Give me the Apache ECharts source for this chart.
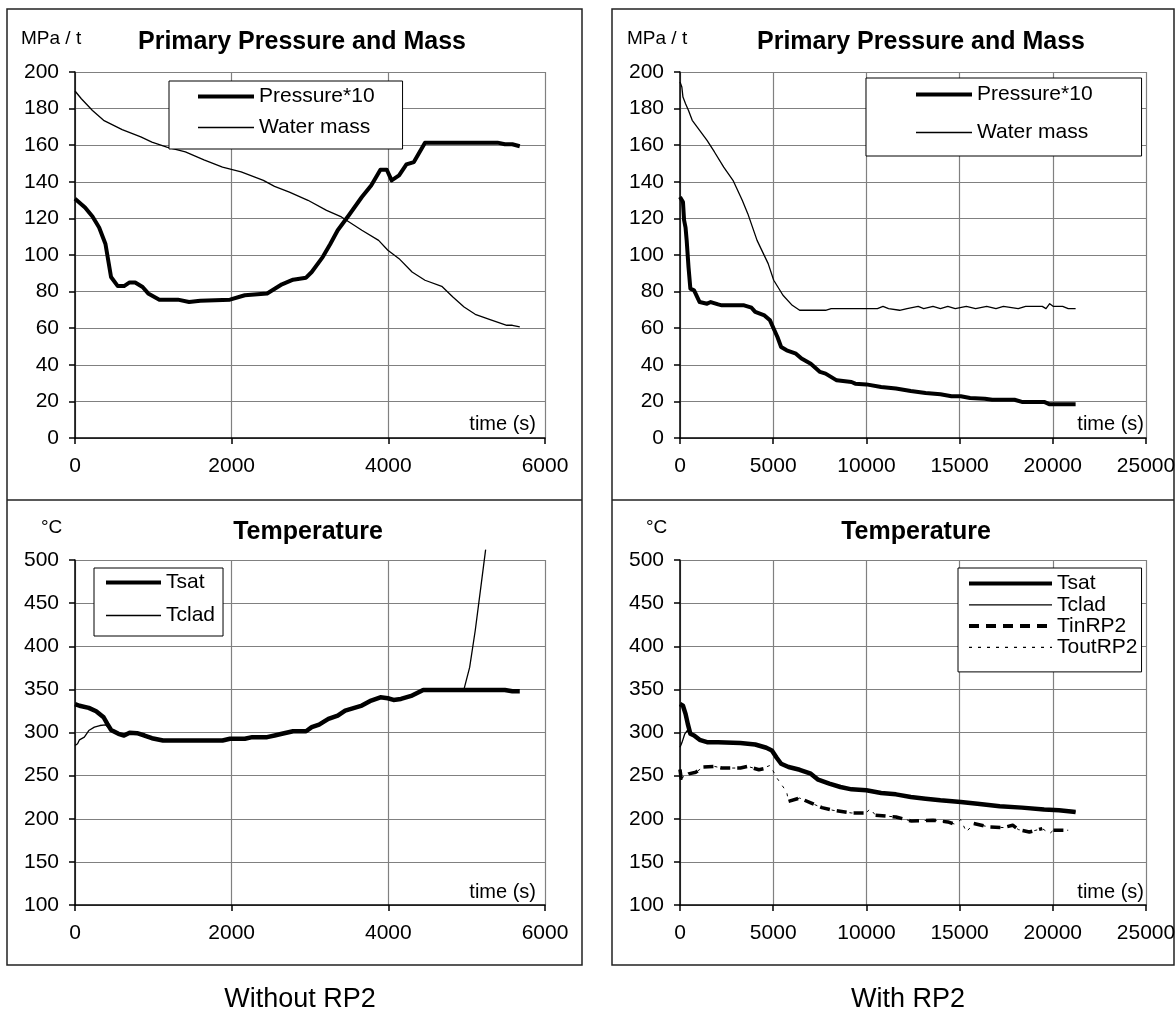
<!DOCTYPE html>
<html>
<head>
<meta charset="utf-8">
<script src="https://cdn.jsdelivr.net/npm/echarts@6.0.0/dist/echarts.min.js"></script>
<style>
html,body{margin:0;padding:0;background:#fff;}
#chart{width:1176px;height:1023px;}
</style>
</head>
<body>
<div id="chart"></div>
<script>
// ---------- DATA (time s, value) ----------
// Without RP2 - primary pressure*10 (MPa) and water mass (t)
var pressureNoRP2 = [[0,130.8],[128,126],[223,121],[308,115],[389,106],[460,88],[546,83],[626,83],[697,85],[768,85],[863,82.5],[934,79],[1077,75.6],[1314,75.6],[1456,74.3],[1599,75],[1978,75.6],[2168,78],[2453,79],[2642,84],[2784,86.5],[2950,87.6],[3022,90.7],[3164,99],[3259,106],[3354,113.5],[3496,121.7],[3662,131.7],[3781,138],[3899,146.6],[3980,146.6],[4042,140.8],[4137,143.5],[4231,149.5],[4326,150.8],[4468,161.4],[5393,161.4],[5488,160.5],[5583,160.5],[5678,159.4]];
var waterNoRP2 = [[0,189.6],[81,185.4],[223,179],[365,173.6],[602,168.5],[840,164.5],[982,161.7],[1172,159],[1409,156.3],[1646,152],[1883,148],[2121,145.4],[2405,140.8],[2547,137.5],[2737,134.4],[2974,129.9],[3211,124.4],[3401,120.8],[3662,113.5],[3876,108],[3994,102.6],[4137,98],[4303,90.7],[4468,86.2],[4682,82.9],[4824,77],[4967,71.6],[5109,67.6],[5299,64.7],[5512,61.6],[5583,61.6],[5678,60.7]];
// With RP2 - primary pressure*10 and water mass
var pressureRP2 = [[0,131.7],[159,129],[219,119],[298,115],[358,108],[457,93.4],[556,81.6],[755,80.7],[1053,74.3],[1451,73.4],[1650,74.3],[2047,73],[2246,72.5],[3438,72.5],[3836,71.2],[4035,68.9],[4531,67],[4829,64.3],[5028,59.7],[5227,55.2],[5425,49.7],[5723,47.9],[6220,46.1],[6518,43.4],[7015,40.6],[7512,36.1],[7810,35.2],[8406,31.5],[9201,30.6],[9400,29.7],[9996,29.3],[10791,27.9],[11586,27],[12381,25.7],[13176,24.6],[13971,23.9],[14567,22.8],[15064,22.8],[15561,21.9],[16355,21.5],[16753,20.9],[17946,20.9],[18343,19.7],[19535,19.7],[19833,18.4],[21224,18.4]];
var waterRP2 = [[0,194.5],[99,191.8],[159,186.3],[298,182.7],[457,179],[656,173.6],[1053,168.1],[1451,162.6],[1848,156.3],[2345,148],[2842,140.8],[3339,129.9],[3637,122.6],[4134,108],[4730,95.3],[5028,86.2],[5525,78],[6022,72.5],[6419,69.8],[6816,69.8],[6916,68.9],[7214,69.8],[7810,69.8],[8108,70.7],[10592,70.7],[10890,71.9],[11188,70.7],[11784,69.8],[12182,70.7],[12778,71.9],[13076,70.7],[13573,71.9],[13971,70.7],[14368,71.9],[14766,70.7],[15362,71.9],[15859,70.7],[16456,71.9],[16952,70.7],[17350,71.9],[18145,70.7],[18542,71.9],[19436,71.9],[19635,70.7],[19833,73.4],[20032,71.9],[20529,71.9],[20827,70.7],[21224,70.7]];
// Without RP2 - temperatures (°C)
var tsatNoRP2 = [[0,333],[57,331],[176,328.5],[270,324.7],[365,317.7],[413,310],[460,303],[555,298.5],[626,296.5],[697,299.6],[792,299.2],[887,296.5],[982,293.4],[1124,290.7],[1409,290.7],[1883,290.7],[1978,292.7],[2168,292.7],[2263,294.6],[2453,294.6],[2548,296.5],[2642,298.5],[2784,301.5],[2950,301.5],[3022,306.2],[3116,309.2],[3235,315.8],[3354,319.7],[3449,325.4],[3662,331.2],[3781,337],[3899,340.8],[3994,339.7],[4066,337.8],[4161,338.9],[4303,342.8],[4445,349.3],[5488,349.3],[5583,347.8],[5678,347.8]];
var tcladNoRP2 = [[0,285],[33,287],[57,291.5],[119,294.6],[176,302.3],[247,306.2],[318,308.1],[389,308.9],[413,309],[460,303],[555,298.5],[626,296.5],[697,299.6],[792,299.2],[887,296.5],[982,293.4],[1124,290.7],[1883,290.7],[1978,292.7],[2168,292.7],[2263,294.6],[2453,294.6],[2548,296.5],[2642,298.5],[2784,301.5],[2950,301.5],[3022,306.2],[3116,309.2],[3235,315.8],[3354,319.7],[3449,325.4],[3662,331.2],[3781,337],[3899,340.8],[3994,339.7],[4066,337.8],[4161,338.9],[4303,342.8],[4445,349.3],[4967,350.5],[5038,375.5],[5109,418],[5180,468],[5242,512]];
// With RP2 - temperatures (°C)
var tsatRP2 = [[0,333],[159,331],[298,321.6],[417,310],[556,298.5],[755,296.5],[1053,291.5],[1451,288.8],[2047,288.8],[3239,287.7],[4035,286.1],[4631,282.3],[4929,279.2],[5187,270.7],[5425,263.8],[5823,260],[6419,256.8],[7015,252.2],[7413,245.3],[8009,240.7],[8605,236.8],[9201,234.1],[9996,233],[10791,229.9],[11586,228.3],[12381,225.2],[13176,223.3],[13971,221.4],[15064,219.5],[15958,217.5],[17151,214.5],[18343,212.9],[19535,210.6],[20330,209.8],[21224,207.9]];
var tcladRP2 = [[0,283],[100,288],[258,298.5],[397,302.3],[556,298.5],[755,296.5],[1053,291.5],[1451,288.8],[2047,288.8],[3239,287.7],[4035,286.1],[4631,282.3],[4929,279.2],[5187,270.7],[5425,263.8],[5823,260],[6419,256.8],[7015,252.2],[7413,245.3],[8009,240.7],[8605,236.8],[9201,234.1],[9996,233],[10791,229.9],[11586,228.3],[12381,225.2],[13176,223.3],[13971,221.4],[15064,219.5],[15958,217.5],[17151,214.5],[18343,212.9],[19535,210.6],[20330,209.8],[21224,207.9]];
var tinRP2 = [[0,257],[60,247],[159,246.4],[457,252],[855,254],[1252,260],[1848,260.7],[2246,258.8],[3239,258.8],[3637,260.7],[4233,256.8],[4700,259],[5300,'-'],[5823,220.2],[6419,224],[7015,218.3],[7612,212.9],[8208,209.8],[9201,206.7],[9996,206.7],[10200,'-'],[10493,204],[11586,202.1],[12381,197.5],[13573,198.3],[14368,196.3],[14766,193.6],[15064,'-'],[15760,194.4],[16555,190.6],[17350,189.8],[17847,192.5],[18145,187.5],[18741,184.7],[19436,188.6],[19833,'-'],[20032,186.7],[20827,186.7]];
var toutRP2 = [[0,257],[60,247],[159,246.4],[457,252],[855,254],[1252,260],[1848,260.7],[2246,258.8],[3239,258.8],[3637,260.7],[4233,256.8],[4829,261.8],[5227,246.4],[5723,231],[5823,220.2],[6419,224],[7015,218.3],[7612,212.9],[8208,209.8],[9201,206.7],[9996,206.7],[10194,211.7],[10493,204],[11586,202.1],[12381,197.5],[13573,198.3],[14368,196.3],[14766,193.6],[15064,199],[15362,184.7],[15760,194.4],[16555,190.6],[17350,189.8],[17847,192.5],[18145,187.5],[18741,184.7],[19436,188.6],[19833,182.8],[20032,186.7],[20827,186.7]];

// axis ranges / ticks
var xNoRP2 = {min: 0, max: 6000, interval: 2000};
var xRP2 = {min: 0, max: 25000, interval: 5000};
var yPress = {min: 0, max: 200, interval: 20};
var yTemp = {min: 100, max: 500, interval: 50};

// texts
var titlePress = 'Primary Pressure and Mass';
var titleTemp = 'Temperature';
var unitPress = 'MPa / t';
var unitTemp = '°C';
var timeLabel = 'time (s)';
var captionLeft = 'Without RP2';
var captionRight = 'With RP2';

// ---------- CHART ----------
var FONT = '"Liberation Sans", Arial, Helvetica, sans-serif';
var chart = echarts.init(document.getElementById('chart'), null, {renderer: 'canvas'});

var grids = [
  {left: 75, top: 72, width: 470, height: 366},
  {left: 680, top: 72, width: 466, height: 366},
  {left: 75, top: 560, width: 470, height: 345},
  {left: 680, top: 560, width: 466, height: 345}
].map(function (g) { return Object.assign({containLabel: false, outerBoundsMode: 'none', show: false}, g); });

function plain(v) { return String(v); }
function xAx(gi, r) {
  return {type: 'value', gridIndex: gi, min: r.min, max: r.max, interval: r.interval,
    axisLine: {show: true, onZero: false, lineStyle: {color: '#000', width: 1.5}},
    axisTick: {show: true, length: 6, lineStyle: {color: '#000', width: 1.5}},
    axisLabel: {show: true, margin: 18, fontSize: 21, color: '#000', fontFamily: FONT, formatter: plain, showMinLabel: true, showMaxLabel: true, hideOverlap: false},
    splitLine: {show: true, lineStyle: {color: '#808080', width: 1.2}}};
}
function yAx(gi, r) {
  return {type: 'value', gridIndex: gi, min: r.min, max: r.max, interval: r.interval,
    axisLine: {show: true, onZero: false, lineStyle: {color: '#000', width: 1.5}},
    axisTick: {show: true, length: 6, lineStyle: {color: '#000', width: 1.5}},
    axisLabel: {show: true, margin: 16, fontSize: 21, color: '#000', fontFamily: FONT, formatter: plain, showMinLabel: true, showMaxLabel: true, hideOverlap: false},
    splitLine: {show: true, lineStyle: {color: '#808080', width: 1.2}}};
}
function S(name, data, idx, width, dash, clip) {
  return {type: 'line', name: name, xAxisIndex: idx, yAxisIndex: idx, data: data,
    symbol: 'none', showSymbol: false, clip: clip !== false, connectNulls: false,
    lineStyle: {color: '#000', width: width, type: dash || 'solid', cap: 'butt', join: 'round'},
    itemStyle: {color: '#000'}, emphasis: {disabled: true}, silent: true, animation: false};
}
function T(text, x, y, size, weight, align) {
  return {text: text, left: x, top: y, textAlign: align || 'center', textVerticalAlign: 'middle', padding: 0,
    textStyle: {fontSize: size, fontWeight: weight || 'normal', color: '#000', fontFamily: FONT}};
}
function L(x, y, names, styles, opt) {
  return Object.assign({
    show: true, orient: 'vertical', left: x, top: y, align: 'left',
    data: names.map(function (n, i) { return {name: n, lineStyle: styles[i], itemStyle: {opacity: 0}}; }),
    itemStyle: {opacity: 0}, selectedMode: false,
    borderColor: '#000', borderWidth: 1, backgroundColor: '#fff', borderRadius: 0,
    textStyle: {fontSize: 21, color: '#000', fontFamily: FONT}
  }, opt);
}
var thick = {color: '#000', width: 4, type: 'solid'};
var thin = {color: '#000', width: 1.3, type: 'solid'};
var dashed = {color: '#000', width: 4, type: [10, 7]};
var dotted = {color: '#000', width: 1.3, type: [3, 6]};

var option = {
  animation: false,
  backgroundColor: '#fff',
  grid: grids,
  xAxis: [xAx(0, xNoRP2), xAx(1, xRP2), xAx(2, xNoRP2), xAx(3, xRP2)],
  yAxis: [yAx(0, yPress), yAx(1, yPress), yAx(2, yTemp), yAx(3, yTemp)],
  title: [
    T(titlePress, 302, 42, 25, 'bold'),
    T(titlePress, 921, 42, 25, 'bold'),
    T(titleTemp, 308, 532, 25, 'bold'),
    T(titleTemp, 916, 532, 25, 'bold'),
    T(unitPress, 21, 39, 19, 'normal', 'left'),
    T(unitPress, 627, 39, 19, 'normal', 'left'),
    T(unitTemp, 41, 528, 19, 'normal', 'left'),
    T(unitTemp, 646, 528, 19, 'normal', 'left'),
    T(timeLabel, 536, 424, 20, 'normal', 'right'),
    T(timeLabel, 1144, 424, 20, 'normal', 'right'),
    T(timeLabel, 536, 892, 20, 'normal', 'right'),
    T(timeLabel, 1144, 892, 20, 'normal', 'right'),
    T(captionLeft, 300, 1000, 27),
    T(captionRight, 908, 1000, 27)
  ],
  legend: [
    L(169, 81, ['Pressure*10', 'Water mass'], [thick, thin], {itemWidth: 56, itemHeight: 14, itemGap: 10, padding: [5, 28, 11, 27]}),
    L(866, 78, ['Pressure*10', 'Water mass'], [thick, thin], {itemWidth: 56, itemHeight: 14, itemGap: 17, padding: [6, 49, 13, 48]}),
    L(94, 568, ['Tsat', 'Tclad'], [thick, thin], {itemWidth: 55, itemHeight: 14, itemGap: 12, padding: [4, 8, 10, 10]}),
    L(958, 568, ['Tsat', 'Tclad', 'TinRP2', 'ToutRP2'], [thick, thin, dashed, dotted],
      {itemWidth: 83, itemHeight: 14, itemGap: 0.3, padding: [5, 4, 14, 9], textStyle: {fontSize: 21, lineHeight: 18, color: '#000', fontFamily: FONT}})
  ],
  graphic: [
    {type: 'rect', shape: {x: 7, y: 9, width: 575, height: 956}, style: {fill: 'none', stroke: '#222', lineWidth: 1.5}, silent: true},
    {type: 'line', shape: {x1: 7, y1: 500, x2: 582, y2: 500}, style: {stroke: '#222', lineWidth: 1.5}, silent: true},
    {type: 'rect', shape: {x: 612, y: 9, width: 562, height: 956}, style: {fill: 'none', stroke: '#222', lineWidth: 1.5}, silent: true},
    {type: 'line', shape: {x1: 612, y1: 500, x2: 1174, y2: 500}, style: {stroke: '#222', lineWidth: 1.5}, silent: true}
  ],
  series: [
    S('Water mass', waterNoRP2, 0, 1.3),
    S('Pressure*10', pressureNoRP2, 0, 4),
    S('Water mass', waterRP2, 1, 1.3),
    S('Pressure*10', pressureRP2, 1, 4),
    S('Tclad', tcladNoRP2, 2, 1.3, 'solid', false),
    S('Tsat', tsatNoRP2, 2, 4.5),
    S('ToutRP2', toutRP2, 3, 1, [3, 6]),
    S('TinRP2', tinRP2, 3, 3.5, [10, 7]),
    S('Tclad', tcladRP2, 3, 1.3),
    S('Tsat', tsatRP2, 3, 4.5)
  ]
};
chart.setOption(option);
</script>
</body>
</html>
